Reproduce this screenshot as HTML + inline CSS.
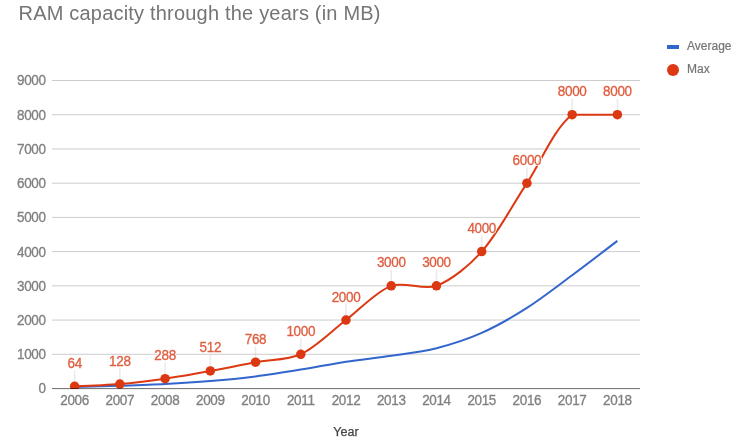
<!DOCTYPE html>
<html><head><meta charset="utf-8"><title>RAM capacity through the years</title><style>html,body{margin:0;padding:0;background:#fff;overflow:hidden;width:750px;height:441px}svg{display:block;will-change:transform}text{font-family:"Liberation Sans", sans-serif}</style></head><body>
<svg width="750" height="441" viewBox="0 0 750 441">
<rect width="750" height="441" fill="#fff"/>
<text x="18.50" y="20.00" font-size="20" letter-spacing="0.2" fill="#757575">RAM capacity through the years (in MB)</text>
<rect x="667" y="45" width="12" height="4" fill="#3366cc"/>
<text x="687.00" y="50.00" font-size="12" fill="#757575" stroke="#757575" stroke-width="0.2">Average</text>
<circle cx="673" cy="70" r="6" fill="#dc3912"/>
<text x="687.00" y="73.00" font-size="12" fill="#757575" stroke="#757575" stroke-width="0.2">Max</text>
<rect x="52" y="353.778" width="588" height="1" fill="#cccccc"/>
<rect x="52" y="319.556" width="588" height="1" fill="#cccccc"/>
<rect x="52" y="285.333" width="588" height="1" fill="#cccccc"/>
<rect x="52" y="251.111" width="588" height="1" fill="#cccccc"/>
<rect x="52" y="216.889" width="588" height="1" fill="#cccccc"/>
<rect x="52" y="182.667" width="588" height="1" fill="#cccccc"/>
<rect x="52" y="148.444" width="588" height="1" fill="#cccccc"/>
<rect x="52" y="114.222" width="588" height="1" fill="#cccccc"/>
<rect x="52" y="80.000" width="588" height="1" fill="#cccccc"/>
<text transform="translate(45.60 393.40) scale(1 1.100)" font-size="13.5" letter-spacing="-0.35" fill="#808080" stroke="#808080" stroke-width="0.3" text-anchor="end">0</text>
<text transform="translate(45.60 359.18) scale(1 1.100)" font-size="13.5" letter-spacing="-0.35" fill="#808080" stroke="#808080" stroke-width="0.3" text-anchor="end">1000</text>
<text transform="translate(45.60 324.96) scale(1 1.100)" font-size="13.5" letter-spacing="-0.35" fill="#808080" stroke="#808080" stroke-width="0.3" text-anchor="end">2000</text>
<text transform="translate(45.60 290.73) scale(1 1.100)" font-size="13.5" letter-spacing="-0.35" fill="#808080" stroke="#808080" stroke-width="0.3" text-anchor="end">3000</text>
<text transform="translate(45.60 256.51) scale(1 1.100)" font-size="13.5" letter-spacing="-0.35" fill="#808080" stroke="#808080" stroke-width="0.3" text-anchor="end">4000</text>
<text transform="translate(45.60 222.29) scale(1 1.100)" font-size="13.5" letter-spacing="-0.35" fill="#808080" stroke="#808080" stroke-width="0.3" text-anchor="end">5000</text>
<text transform="translate(45.60 188.07) scale(1 1.100)" font-size="13.5" letter-spacing="-0.35" fill="#808080" stroke="#808080" stroke-width="0.3" text-anchor="end">6000</text>
<text transform="translate(45.60 153.84) scale(1 1.100)" font-size="13.5" letter-spacing="-0.35" fill="#808080" stroke="#808080" stroke-width="0.3" text-anchor="end">7000</text>
<text transform="translate(45.60 119.62) scale(1 1.100)" font-size="13.5" letter-spacing="-0.35" fill="#808080" stroke="#808080" stroke-width="0.3" text-anchor="end">8000</text>
<text transform="translate(45.60 85.40) scale(1 1.100)" font-size="13.5" letter-spacing="-0.35" fill="#808080" stroke="#808080" stroke-width="0.3" text-anchor="end">9000</text>
<text transform="translate(74.62 405.00) scale(1 1.100)" font-size="13.5" letter-spacing="-0.35" fill="#808080" stroke="#808080" stroke-width="0.3" text-anchor="middle">2006</text>
<text transform="translate(119.85 405.00) scale(1 1.100)" font-size="13.5" letter-spacing="-0.35" fill="#808080" stroke="#808080" stroke-width="0.3" text-anchor="middle">2007</text>
<text transform="translate(165.08 405.00) scale(1 1.100)" font-size="13.5" letter-spacing="-0.35" fill="#808080" stroke="#808080" stroke-width="0.3" text-anchor="middle">2008</text>
<text transform="translate(210.31 405.00) scale(1 1.100)" font-size="13.5" letter-spacing="-0.35" fill="#808080" stroke="#808080" stroke-width="0.3" text-anchor="middle">2009</text>
<text transform="translate(255.54 405.00) scale(1 1.100)" font-size="13.5" letter-spacing="-0.35" fill="#808080" stroke="#808080" stroke-width="0.3" text-anchor="middle">2010</text>
<text transform="translate(300.77 405.00) scale(1 1.100)" font-size="13.5" letter-spacing="-0.35" fill="#808080" stroke="#808080" stroke-width="0.3" text-anchor="middle">2011</text>
<text transform="translate(346.00 405.00) scale(1 1.100)" font-size="13.5" letter-spacing="-0.35" fill="#808080" stroke="#808080" stroke-width="0.3" text-anchor="middle">2012</text>
<text transform="translate(391.23 405.00) scale(1 1.100)" font-size="13.5" letter-spacing="-0.35" fill="#808080" stroke="#808080" stroke-width="0.3" text-anchor="middle">2013</text>
<text transform="translate(436.46 405.00) scale(1 1.100)" font-size="13.5" letter-spacing="-0.35" fill="#808080" stroke="#808080" stroke-width="0.3" text-anchor="middle">2014</text>
<text transform="translate(481.69 405.00) scale(1 1.100)" font-size="13.5" letter-spacing="-0.35" fill="#808080" stroke="#808080" stroke-width="0.3" text-anchor="middle">2015</text>
<text transform="translate(526.92 405.00) scale(1 1.100)" font-size="13.5" letter-spacing="-0.35" fill="#808080" stroke="#808080" stroke-width="0.3" text-anchor="middle">2016</text>
<text transform="translate(572.15 405.00) scale(1 1.100)" font-size="13.5" letter-spacing="-0.35" fill="#808080" stroke="#808080" stroke-width="0.3" text-anchor="middle">2017</text>
<text transform="translate(617.38 405.00) scale(1 1.100)" font-size="13.5" letter-spacing="-0.35" fill="#808080" stroke="#808080" stroke-width="0.3" text-anchor="middle">2018</text>
<text x="346.00" y="435.60" font-size="12.5" text-anchor="middle" fill="#444444" stroke="#444444" stroke-width="0.25">Year</text>
<defs><clipPath id="ca"><rect x="42" y="0" width="608" height="389"/></clipPath></defs>
<g clip-path="url(#ca)">
<rect x="73.82" y="370.31" width="1.6" height="16" fill="#999" fill-opacity="0.2"/>
<rect x="119.05" y="368.12" width="1.6" height="16" fill="#999" fill-opacity="0.2"/>
<rect x="164.28" y="362.64" width="1.6" height="16" fill="#999" fill-opacity="0.2"/>
<rect x="209.51" y="354.98" width="1.6" height="16" fill="#999" fill-opacity="0.2"/>
<rect x="254.74" y="346.22" width="1.6" height="16" fill="#999" fill-opacity="0.2"/>
<rect x="299.97" y="338.28" width="1.6" height="16" fill="#999" fill-opacity="0.2"/>
<rect x="345.20" y="304.06" width="1.6" height="16" fill="#999" fill-opacity="0.2"/>
<rect x="390.43" y="269.83" width="1.6" height="16" fill="#999" fill-opacity="0.2"/>
<rect x="435.66" y="269.83" width="1.6" height="16" fill="#999" fill-opacity="0.2"/>
<rect x="480.89" y="235.61" width="1.6" height="16" fill="#999" fill-opacity="0.2"/>
<rect x="526.12" y="167.17" width="1.6" height="16" fill="#999" fill-opacity="0.2"/>
<rect x="571.35" y="98.72" width="1.6" height="16" fill="#999" fill-opacity="0.2"/>
<rect x="616.58" y="98.72" width="1.6" height="16" fill="#999" fill-opacity="0.2"/>
<path d="M74.62,386.96 C74.62,386.96 105.83,386.21 119.85,385.76 C133.87,385.31 151.07,384.78 165.08,384.05 C179.11,383.32 196.31,382.25 210.31,381.07 C224.35,379.89 241.56,378.19 255.54,376.42 C269.60,374.64 286.77,371.89 300.77,369.61 C314.82,367.32 331.93,363.85 346.00,361.70 C359.97,359.57 377.25,357.91 391.23,355.82 C405.29,353.72 422.72,351.67 436.46,348.19 C450.76,344.56 468.22,338.89 481.69,332.89 C496.27,326.40 513.44,316.50 526.92,307.91 C541.48,298.63 558.25,285.52 572.15,275.22 C586.30,264.75 617.38,240.90 617.38,240.90" fill="none" stroke="#3366cc" stroke-width="2"/>
<path d="M74.62,386.31 C74.62,386.31 105.87,385.30 119.85,384.12 C133.91,382.93 151.10,380.67 165.08,378.64 C179.15,376.60 196.32,373.52 210.31,370.98 C224.36,368.43 241.49,364.81 255.54,362.22 C269.54,359.63 288.22,360.13 300.77,354.28 C316.27,347.06 331.98,330.66 346.00,320.06 C360.02,309.45 375.63,291.74 391.23,285.83 C403.67,281.13 424.02,290.54 436.46,285.83 C452.06,279.93 470.23,264.62 481.69,251.61 C498.27,232.79 512.90,204.38 526.92,183.17 C540.94,161.95 554.08,128.40 572.15,114.72 C582.12,114.72 617.38,114.72 617.38,114.72" fill="none" stroke="#dc3912" stroke-width="2"/>
<circle cx="74.62" cy="386.31" r="4.75" fill="#dc3912"/>
<circle cx="119.85" cy="384.12" r="4.75" fill="#dc3912"/>
<circle cx="165.08" cy="378.64" r="4.75" fill="#dc3912"/>
<circle cx="210.31" cy="370.98" r="4.75" fill="#dc3912"/>
<circle cx="255.54" cy="362.22" r="4.75" fill="#dc3912"/>
<circle cx="300.77" cy="354.28" r="4.75" fill="#dc3912"/>
<circle cx="346.00" cy="320.06" r="4.75" fill="#dc3912"/>
<circle cx="391.23" cy="285.83" r="4.75" fill="#dc3912"/>
<circle cx="436.46" cy="285.83" r="4.75" fill="#dc3912"/>
<circle cx="481.69" cy="251.61" r="4.75" fill="#dc3912"/>
<circle cx="526.92" cy="183.17" r="4.75" fill="#dc3912"/>
<circle cx="572.15" cy="114.72" r="4.75" fill="#dc3912"/>
<circle cx="617.38" cy="114.72" r="4.75" fill="#dc3912"/>
</g>
<rect x="52" y="388.1" width="588" height="1" fill="#000000" fill-opacity="0.58"/>
<text transform="translate(74.62 367.81) scale(1 1.100)" font-size="13.5" letter-spacing="-0.35" text-anchor="middle" fill="#fff" stroke="#fff" stroke-width="2" stroke-linejoin="round">64</text>
<text transform="translate(74.62 367.81) scale(1 1.100)" font-size="13.5" letter-spacing="-0.35" text-anchor="middle" fill="#df5e40" stroke="#df5e40" stroke-width="0.3">64</text>
<text transform="translate(119.85 365.62) scale(1 1.100)" font-size="13.5" letter-spacing="-0.35" text-anchor="middle" fill="#fff" stroke="#fff" stroke-width="2" stroke-linejoin="round">128</text>
<text transform="translate(119.85 365.62) scale(1 1.100)" font-size="13.5" letter-spacing="-0.35" text-anchor="middle" fill="#df5e40" stroke="#df5e40" stroke-width="0.3">128</text>
<text transform="translate(165.08 360.14) scale(1 1.100)" font-size="13.5" letter-spacing="-0.35" text-anchor="middle" fill="#fff" stroke="#fff" stroke-width="2" stroke-linejoin="round">288</text>
<text transform="translate(165.08 360.14) scale(1 1.100)" font-size="13.5" letter-spacing="-0.35" text-anchor="middle" fill="#df5e40" stroke="#df5e40" stroke-width="0.3">288</text>
<text transform="translate(210.31 352.48) scale(1 1.100)" font-size="13.5" letter-spacing="-0.35" text-anchor="middle" fill="#fff" stroke="#fff" stroke-width="2" stroke-linejoin="round">512</text>
<text transform="translate(210.31 352.48) scale(1 1.100)" font-size="13.5" letter-spacing="-0.35" text-anchor="middle" fill="#df5e40" stroke="#df5e40" stroke-width="0.3">512</text>
<text transform="translate(255.54 343.72) scale(1 1.100)" font-size="13.5" letter-spacing="-0.35" text-anchor="middle" fill="#fff" stroke="#fff" stroke-width="2" stroke-linejoin="round">768</text>
<text transform="translate(255.54 343.72) scale(1 1.100)" font-size="13.5" letter-spacing="-0.35" text-anchor="middle" fill="#df5e40" stroke="#df5e40" stroke-width="0.3">768</text>
<text transform="translate(300.77 335.78) scale(1 1.100)" font-size="13.5" letter-spacing="-0.35" text-anchor="middle" fill="#fff" stroke="#fff" stroke-width="2" stroke-linejoin="round">1000</text>
<text transform="translate(300.77 335.78) scale(1 1.100)" font-size="13.5" letter-spacing="-0.35" text-anchor="middle" fill="#df5e40" stroke="#df5e40" stroke-width="0.3">1000</text>
<text transform="translate(346.00 301.56) scale(1 1.100)" font-size="13.5" letter-spacing="-0.35" text-anchor="middle" fill="#fff" stroke="#fff" stroke-width="2" stroke-linejoin="round">2000</text>
<text transform="translate(346.00 301.56) scale(1 1.100)" font-size="13.5" letter-spacing="-0.35" text-anchor="middle" fill="#df5e40" stroke="#df5e40" stroke-width="0.3">2000</text>
<text transform="translate(391.23 267.33) scale(1 1.100)" font-size="13.5" letter-spacing="-0.35" text-anchor="middle" fill="#fff" stroke="#fff" stroke-width="2" stroke-linejoin="round">3000</text>
<text transform="translate(391.23 267.33) scale(1 1.100)" font-size="13.5" letter-spacing="-0.35" text-anchor="middle" fill="#df5e40" stroke="#df5e40" stroke-width="0.3">3000</text>
<text transform="translate(436.46 267.33) scale(1 1.100)" font-size="13.5" letter-spacing="-0.35" text-anchor="middle" fill="#fff" stroke="#fff" stroke-width="2" stroke-linejoin="round">3000</text>
<text transform="translate(436.46 267.33) scale(1 1.100)" font-size="13.5" letter-spacing="-0.35" text-anchor="middle" fill="#df5e40" stroke="#df5e40" stroke-width="0.3">3000</text>
<text transform="translate(481.69 233.11) scale(1 1.100)" font-size="13.5" letter-spacing="-0.35" text-anchor="middle" fill="#fff" stroke="#fff" stroke-width="2" stroke-linejoin="round">4000</text>
<text transform="translate(481.69 233.11) scale(1 1.100)" font-size="13.5" letter-spacing="-0.35" text-anchor="middle" fill="#df5e40" stroke="#df5e40" stroke-width="0.3">4000</text>
<text transform="translate(526.92 164.67) scale(1 1.100)" font-size="13.5" letter-spacing="-0.35" text-anchor="middle" fill="#fff" stroke="#fff" stroke-width="2" stroke-linejoin="round">6000</text>
<text transform="translate(526.92 164.67) scale(1 1.100)" font-size="13.5" letter-spacing="-0.35" text-anchor="middle" fill="#df5e40" stroke="#df5e40" stroke-width="0.3">6000</text>
<text transform="translate(572.15 96.22) scale(1 1.100)" font-size="13.5" letter-spacing="-0.35" text-anchor="middle" fill="#fff" stroke="#fff" stroke-width="2" stroke-linejoin="round">8000</text>
<text transform="translate(572.15 96.22) scale(1 1.100)" font-size="13.5" letter-spacing="-0.35" text-anchor="middle" fill="#df5e40" stroke="#df5e40" stroke-width="0.3">8000</text>
<text transform="translate(617.38 96.22) scale(1 1.100)" font-size="13.5" letter-spacing="-0.35" text-anchor="middle" fill="#fff" stroke="#fff" stroke-width="2" stroke-linejoin="round">8000</text>
<text transform="translate(617.38 96.22) scale(1 1.100)" font-size="13.5" letter-spacing="-0.35" text-anchor="middle" fill="#df5e40" stroke="#df5e40" stroke-width="0.3">8000</text>
</svg></body></html>
